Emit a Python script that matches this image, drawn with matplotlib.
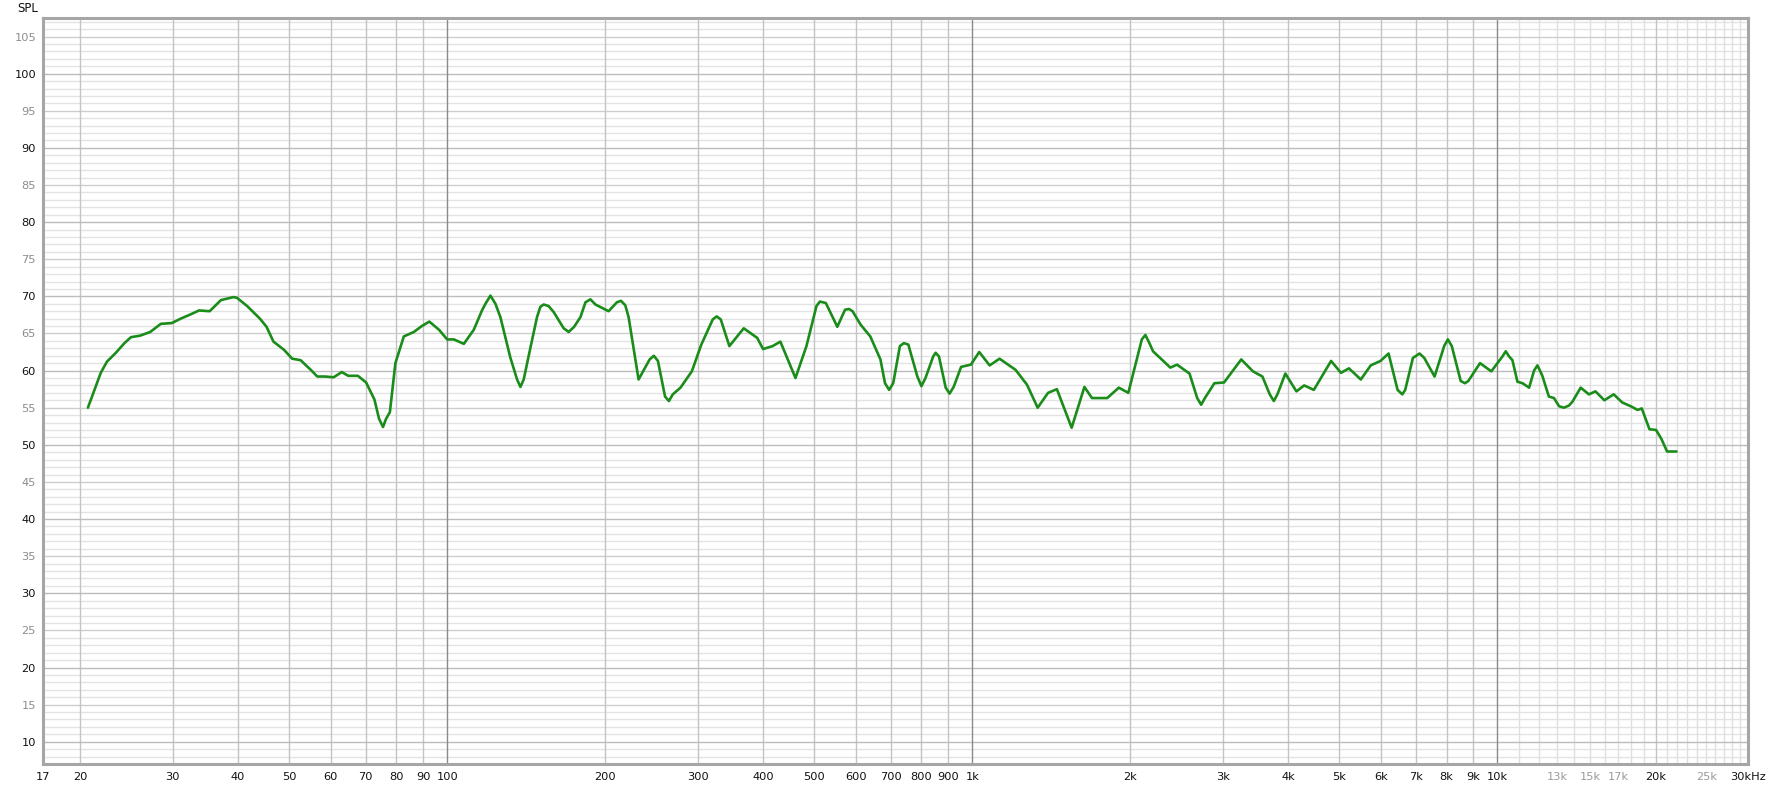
import matplotlib
matplotlib.use("Agg")
import matplotlib.pyplot as plt
from matplotlib.ticker import FixedLocator, NullFormatter

# ---- data ----
freq_hz = [20.7, 21.9, 22.5, 23.4, 24.3, 25.0, 26.0, 27.2, 28.5, 29.9,
           31.1, 32.3, 33.7, 35.3, 37.1, 39.2, 39.8, 41.6, 44.0, 45.3,
           46.7, 48.9, 50.7, 52.6, 55.0, 56.6, 58.6, 60.8, 63.0, 64.8,
           67.6, 70.1, 72.7, 74.2, 75.5, 76.5, 77.8, 79.7, 82.7, 86.4,
           89.5, 92.5, 96.5, 100.0, 103.0, 107.6, 112.4, 116.5, 118.3, 120.9,
           123.6, 126.3, 132.0, 135.9, 137.9, 139.9, 143.5, 148.3, 150.5, 152.7,
           156.0, 159.5, 166.7, 170.4, 174.5, 179.4, 183.4, 187.4, 191.6, 203.0,
           210.5, 214.3, 218.4, 221.6, 231.5, 243.0, 247.5, 252.0, 260.0, 264.4,
           269.0, 278.2, 292.4, 304.8, 320.5, 326.0, 331.9, 344.7, 367.1, 389.5,
           399.6, 416.7, 431.1, 460.6, 483.3, 505.0, 512.8, 526.2, 553.3, 572.4,
           582.4, 591.5, 612.7, 639.4, 668.5, 682.0, 694.5, 707.0, 728.0, 740.7,
           755.5, 786.0, 800.1, 814.5, 842.5, 851.7, 864.0, 890.0, 905.2, 921.5,
           952.2, 993.7, 1031, 1079, 1127, 1209, 1271, 1332, 1394, 1449,
           1546, 1635, 1690, 1807, 1901, 1982, 2103, 2136, 2174, 2209,
           2383, 2454, 2592, 2681, 2728, 2773, 2891, 3016, 3252, 3423,
           3568, 3685, 3751, 3811, 3946, 4142, 4286, 4471, 4822, 5035,
           5215, 5493, 5738, 5989, 6204, 6454, 6590, 6674, 6903, 7105,
           7256, 7591, 7917, 8046, 8186, 8512, 8672, 8802, 9264, 9735,
           10221, 10372, 10524, 10680, 10916, 11160, 11490, 11742, 11915, 12050,
           12175, 12530, 12815, 13102, 13385, 13688, 13890, 14405, 14935, 15370,
           15980, 16650, 17287, 17937, 18490, 18830, 19475, 20045, 20520, 21040,
           21930]
spl_db = [55.0, 59.7, 61.2, 62.4, 63.7, 64.5, 64.7, 65.2, 66.3, 66.4,
          67.0, 67.5, 68.1, 68.0, 69.5, 69.9, 69.8, 68.7, 67.0, 65.9,
          63.9, 62.8, 61.6, 61.4, 60.1, 59.2, 59.2, 59.1, 59.8, 59.3,
          59.3, 58.4, 56.1, 53.5, 52.4, 53.5, 54.4, 61.0, 64.6, 65.2,
          66.0, 66.6, 65.5, 64.2, 64.2, 63.6, 65.5, 68.1, 69.0, 70.1,
          69.0, 67.2, 61.7, 58.8, 57.8, 58.8, 62.5, 67.2, 68.6, 68.9,
          68.7, 67.9, 65.7, 65.2, 65.9, 67.2, 69.2, 69.6, 68.9, 68.0,
          69.2, 69.4, 68.8, 67.2, 58.8, 61.5, 62.0, 61.3, 56.5, 55.9,
          56.8, 57.7, 59.9, 63.5, 66.9, 67.3, 66.9, 63.3, 65.7, 64.4,
          62.9, 63.3, 63.9, 59.0, 63.3, 68.7, 69.3, 69.1, 65.9, 68.2,
          68.3, 68.0, 66.2, 64.6, 61.5, 58.3, 57.4, 58.3, 63.3, 63.7,
          63.5, 59.2, 57.9, 59.0, 61.9, 62.4, 61.9, 57.7, 56.9, 57.8,
          60.5, 60.8, 62.5, 60.7, 61.6, 60.1, 58.1, 55.0, 57.0, 57.5,
          52.3, 57.8, 56.3, 56.3, 57.7, 57.0, 64.2, 64.8, 63.7, 62.6,
          60.4, 60.8, 59.6, 56.3, 55.4, 56.3, 58.3, 58.4, 61.5, 59.9,
          59.2, 56.8, 55.9, 56.8, 59.6, 57.2, 58.0, 57.4, 61.3, 59.7,
          60.3, 58.8, 60.7, 61.3, 62.3, 57.4, 56.8, 57.4, 61.7, 62.3,
          61.7, 59.2, 63.3, 64.2, 63.3, 58.6, 58.3, 58.6, 61.0, 59.9,
          61.9, 62.6, 61.9, 61.4, 58.5, 58.3, 57.7, 60.0, 60.7, 60.0,
          59.3, 56.5, 56.3, 55.2, 55.0, 55.3, 55.8, 57.7, 56.8, 57.2,
          56.0, 56.8, 55.7, 55.2, 54.7, 54.9, 52.1, 52.0, 50.8, 49.1,
          49.1]

x_tick_values = [17, 20, 30, 40, 50, 60, 70, 80, 90, 100, 200, 300, 400, 500, 600,
                 700, 800, 900, 1000, 2000, 3000, 4000, 5000, 6000, 7000, 8000,
                 9000, 10000, 13000, 15000, 17000, 20000, 25000, 30000]
x_tick_labels = ["17", "20", "30", "40", "50", "60", "70", "80", "90", "100", "200",
                 "300", "400", "500", "600", "700", "800", "900", "1k", "2k", "3k",
                 "4k", "5k", "6k", "7k", "8k", "9k", "10k", "13k", "15k", "17k",
                 "20k", "25k", "30kHz"]
x_gray_labels = ["13k", "15k", "17k", "25k"]
y_tick_values = list(range(10, 106, 5))

# ---- figure ----
W, H = 1769, 790
fig = plt.figure(figsize=(W / 100, H / 100), dpi=100)
L, R, T, B = 43, 1748, 18, 764
ax = fig.add_axes([L / W, 1 - B / H, (R - L) / W, (B - T) / H])
ax.set_xscale("log")
ax.set_xlim(17, 30000)
ax.set_ylim(7, 107.5)

# grid lines
for v in range(8, 108):
    if v % 10 == 0:
        c, z = "#bcbcbc", 0.3
    elif v % 5 == 0:
        c, z = "#cdcdcd", 0.2
    else:
        c, z = "#e3e3e3", 0.1
    ax.axhline(v, color=c, lw=1.0, zorder=z)

vlines = []
for dec in (10, 100, 1000):
    for m in range(2, 10):
        vlines.append((dec * m, "#c4c4c4", 0.2))
for d in (100, 1000, 10000):
    vlines.append((d, "#8a8a8a", 0.4))
for k in range(11, 30):
    if k == 20:
        vlines.append((20000, "#c4c4c4", 0.2))
    else:
        vlines.append((k * 1000, "#e0e0e0", 0.1))
for f, c, z in vlines:
    if 17 < f < 30000:
        ax.axvline(f, color=c, lw=1.0, zorder=z)

# curve
ax.plot(freq_hz, spl_db, color="#1a8c1a", lw=1.9, zorder=3,
        solid_joinstyle="round", solid_capstyle="round")

# ticks
ax.xaxis.set_major_locator(FixedLocator(x_tick_values))
ax.set_xticklabels(x_tick_labels)
ax.xaxis.set_minor_formatter(NullFormatter())
ax.xaxis.set_minor_locator(FixedLocator([]))
ax.set_yticks(y_tick_values)
ax.set_yticklabels([str(v) for v in y_tick_values])
ax.tick_params(axis="both", which="both", length=0, labelsize=8.2)
ax.tick_params(axis="x", pad=6)
ax.tick_params(axis="y", pad=5)
for lab in ax.get_xticklabels():
    lab.set_color("#9a9a9a" if lab.get_text() in x_gray_labels else "#111111")
for lab, v in zip(ax.get_yticklabels(), y_tick_values):
    lab.set_color("#111111" if v % 10 == 0 else "#8c8c8c")

for s in ax.spines.values():
    s.set_color("#a6a6a6")
    s.set_linewidth(2.2)
    s.set_zorder(5)

fig.text(17 / W, 1 - 8 / H, "SPL", fontsize=8.5, va="center", ha="left", color="#111111")

fig.savefig("out.png", dpi=100, facecolor="white")
